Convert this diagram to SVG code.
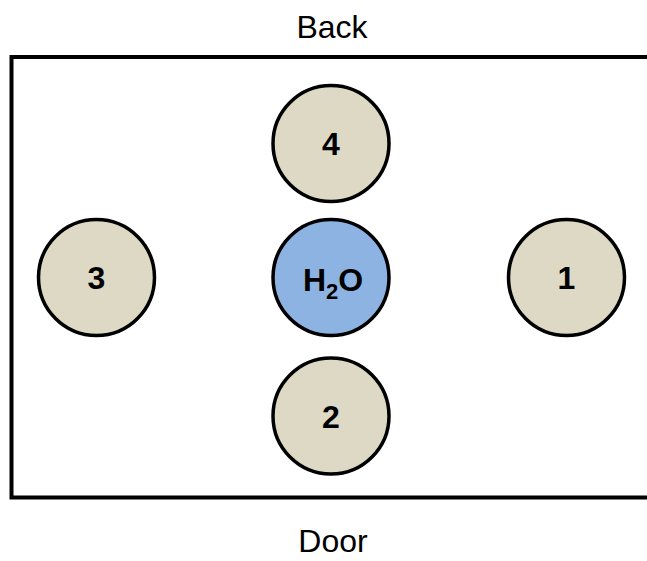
<svg xmlns="http://www.w3.org/2000/svg" width="647" height="561" viewBox="0 0 647 561">
  <style>
    .room { fill: none; stroke: #000; stroke-width: 4; }
    .node circle { stroke: #000; stroke-width: 3.5; }
    .tan { fill: #DDD9C4; }
    .water { fill: #8DB3E2; }
    .num { font-family: "Liberation Sans", Arial, sans-serif; font-weight: bold; font-size: 32px; text-anchor: middle; fill: #000; }
    .label { font-family: "Liberation Sans", Arial, sans-serif; font-size: 32px; text-anchor: middle; fill: #000; }
  </style>
  <rect width="647" height="561" fill="#fff"/>
  <path class="room" d="M 660 57 L 11.5 57 L 11.5 497.5 L 660 497.5"/>
  <text class="label" x="332" y="38">Back</text>
  <text class="label" x="333" y="552">Door</text>
  <g id="connectors"></g>
  <g id="node-4" class="node">
    <circle class="tan" cx="331" cy="143.5" r="58"/>
    <text class="num" x="331" y="155">4</text>
  </g>
  <g id="node-h2o" class="node">
    <circle class="water" cx="331" cy="277.5" r="58"/>
    <text class="num" x="333" y="291" font-size="34">H<tspan font-size="22" dy="8">2</tspan><tspan dy="-8">O</tspan></text>
  </g>
  <g id="node-2" class="node">
    <circle class="tan" cx="331" cy="416" r="58"/>
    <text class="num" x="331" y="427.5">2</text>
  </g>
  <g id="node-3" class="node">
    <circle class="tan" cx="96.5" cy="277.5" r="58"/>
    <text class="num" x="96.5" y="289">3</text>
  </g>
  <g id="node-1" class="node">
    <circle class="tan" cx="566.5" cy="277.5" r="58"/>
    <text class="num" x="566.5" y="289">1</text>
  </g>
</svg>
